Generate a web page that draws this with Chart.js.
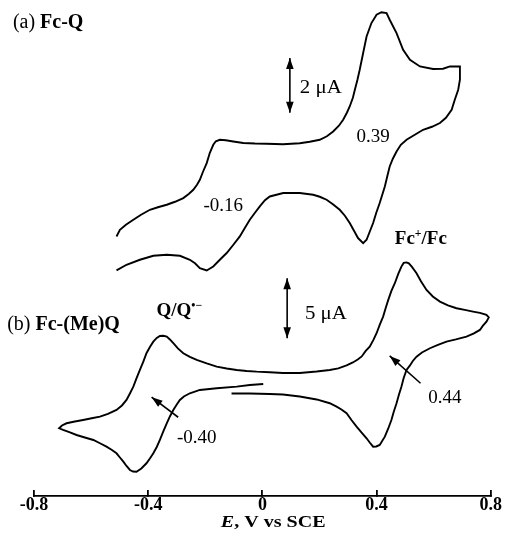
<!DOCTYPE html>
<html>
<head>
<meta charset="utf-8">
<script src="https://cdn.jsdelivr.net/npm/chart.js@4/dist/chart.umd.min.js"></script>
<style>
  html, body { margin: 0; padding: 0; background: #fff; }
  canvas { display: block; }
</style>
</head>
<body>
<canvas id="cv" width="507" height="552"></canvas>
<script>
// Cyclic voltammograms: potential E (V vs SCE) and current (µA)
// (a) Fc-Q : forward scan to +0.69 V, then back
const fcQ_E = [-0.511,-0.499,-0.478,-0.452,-0.425,-0.394,-0.366,-0.335,-0.306,-0.277,-0.257,-0.242,-0.229,-0.219,-0.208,-0.195,-0.184,-0.172,-0.163,-0.149,-0.128,-0.102,-0.067,-0.026,0.015,0.072,0.131,0.166,0.201,0.226,0.248,0.268,0.283,0.296,0.306,0.317,0.324,0.333,0.341,0.353,0.365,0.382,0.400,0.417,0.435,0.446,0.470,0.493,0.517,0.552,0.598,0.633,0.657,0.692,
  0.692,0.686,0.674,0.663,0.643,0.622,0.594,0.563,0.534,0.505,0.485,0.470,0.457,0.446,0.438,0.429,0.420,0.411,0.399,0.388,0.376,0.365,0.353,0.335,0.320,0.306,0.289,0.271,0.247,0.225,0.201,0.178,0.131,0.073,0.026,0.009,-0.009,-0.026,-0.044,-0.061,-0.079,-0.103,-0.125,-0.149,-0.172,-0.195,-0.219,-0.236,-0.254,-0.289,-0.335,-0.382,-0.429,-0.476,-0.511];
const fcQ_I = [-1.338,-1.094,-0.911,-0.729,-0.547,-0.365,-0.273,-0.182,-0.073,0.062,0.219,0.365,0.547,0.729,1.021,1.338,1.713,2.005,2.133,2.187,2.169,2.125,2.067,2.049,2.042,2.023,2.060,2.114,2.187,2.315,2.490,2.698,2.917,3.172,3.401,3.719,4.010,4.375,4.739,5.348,5.953,6.442,6.744,6.836,6.806,6.562,6.077,5.468,5.104,4.860,4.765,4.776,4.860,4.860,
  4.375,4.010,3.646,3.281,2.989,2.796,2.661,2.552,2.370,2.187,2.005,1.761,1.495,1.214,0.875,0.485,0.182,-0.120,-0.474,-0.849,-1.167,-1.458,-1.579,-1.396,-1.112,-0.849,-0.583,-0.365,-0.164,0.000,0.109,0.182,0.244,0.244,0.120,-0.018,-0.244,-0.474,-0.729,-1.021,-1.338,-1.659,-1.943,-2.187,-2.432,-2.577,-2.490,-2.315,-2.187,-2.042,-2.005,-2.042,-2.187,-2.370,-2.577];

// (b) Fc-(Me)Q : start at 0 V, scan negative to -0.71 V, positive to +0.79 V, back
const fcMeQ_E = [0.003,-0.044,-0.090,-0.160,-0.219,-0.254,-0.275,-0.289,-0.301,-0.312,-0.324,-0.335,-0.347,-0.359,-0.370,-0.382,-0.394,-0.406,-0.424,-0.441,-0.453,-0.464,-0.476,-0.487,-0.499,-0.511,-0.527,-0.546,-0.569,-0.592,-0.622,-0.651,-0.674,-0.698,-0.712,
  -0.702,-0.686,-0.657,-0.628,-0.598,-0.569,-0.541,-0.511,-0.492,-0.476,-0.464,-0.452,-0.441,-0.429,-0.417,-0.406,-0.394,-0.382,-0.370,-0.359,-0.347,-0.335,-0.324,-0.312,-0.296,-0.277,-0.254,-0.230,-0.195,-0.160,-0.125,-0.090,-0.055,-0.020,0.026,0.072,0.131,0.190,0.236,0.266,0.295,0.317,0.334,0.348,0.362,0.376,0.389,0.400,0.411,0.423,0.432,0.441,0.452,0.464,0.476,0.487,0.495,0.505,0.513,0.524,0.540,0.555,0.575,0.597,0.622,0.650,0.680,0.709,0.738,0.762,0.785,0.793,
  0.785,0.772,0.762,0.741,0.715,0.678,0.645,0.615,0.587,0.559,0.540,0.527,0.517,0.505,0.495,0.487,0.478,0.470,0.460,0.452,0.441,0.429,0.411,0.399,0.388,0.376,0.365,0.347,0.330,0.312,0.295,0.277,0.260,0.236,0.190,0.131,0.072,0.026,-0.044,-0.108];
const fcMeQ_I = [-1.167,-1.250,-1.392,-1.525,-1.667,-1.942,-2.208,-2.500,-2.917,-3.333,-3.875,-4.442,-5.125,-5.833,-6.417,-6.942,-7.375,-7.775,-8.208,-8.475,-8.458,-8.333,-8.000,-7.642,-7.292,-6.942,-6.667,-6.392,-6.108,-5.833,-5.625,-5.417,-5.208,-5.000,-4.858,
  -4.625,-4.442,-4.292,-4.167,-4.025,-3.892,-3.667,-3.333,-2.958,-2.500,-1.958,-1.392,-0.708,0.000,0.692,1.392,1.917,2.358,2.667,2.833,2.850,2.775,2.542,2.225,1.792,1.392,1.083,0.833,0.542,0.275,0.125,0.000,-0.083,-0.142,-0.192,-0.250,-0.250,-0.125,0.000,0.125,0.375,0.625,0.875,1.125,1.583,1.942,2.500,3.058,3.750,4.442,5.167,5.833,6.583,7.225,8.000,8.608,8.917,8.958,8.875,8.583,8.058,7.417,6.667,6.125,5.692,5.375,5.142,5.000,4.858,4.750,4.583,4.375,
  4.025,3.667,3.333,3.042,2.775,2.542,2.358,2.083,1.808,1.458,1.108,0.750,0.375,0.000,-0.667,-1.392,-2.083,-2.775,-3.500,-4.167,-4.875,-5.558,-6.250,-6.375,-6.392,-6.042,-5.692,-5.208,-4.725,-4.167,-3.608,-3.292,-3.058,-2.775,-2.458,-2.208,-2.042,-2.000,-1.958,-1.958];

// Potential axis ticks
const tickValues = [-0.8, -0.4, 0, 0.4, 0.8];
const tickLabels = ['-0.8', '-0.4', '0', '0.4', '0.8'];

const SERIF = "'Liberation Serif', 'Times New Roman', serif";

const toPoints = (xs, ys) => xs.map((x, i) => ({ x, y: ys[i] }));

// Text notes, placed in (E, current) units of the given current axis
const notes = [
  { axis: 'ya', x: -0.874, y: 6.50, align: 'left', size: 20, parts: [{ t: '(a) ' }, { t: 'Fc-Q', bold: true }] },
  { axis: 'ya', x: 0.131, y: 4.11, align: 'left', size: 19, sx: 1.1, parts: [{ t: '2 \u03bcA' }] },
  { axis: 'ya', x: 0.388, y: 2.33, align: 'center', size: 19, parts: [{ t: '0.39' }] },
  { axis: 'ya', x: -0.137, y: -0.18, align: 'center', size: 19, parts: [{ t: '-0.16' }] },
  { axis: 'ya', x: 0.555, y: -1.39, align: 'center', size: 19, parts: [{ t: 'Fc', bold: true }, { t: '+', bold: true, sup: true }, { t: '/Fc', bold: true }] },
  { axis: 'yb', x: -0.371, y: 5.00, align: 'left', size: 19, parts: [{ t: 'Q/Q', bold: true }, { t: '\u2022\u2212', bold: true, sup: true }] },
  { axis: 'yb', x: -0.894, y: 3.89, align: 'left', size: 20, parts: [{ t: '(b) ' }, { t: 'Fc-(Me)Q', bold: true }] },
  { axis: 'yb', x: 0.149, y: 4.77, align: 'left', size: 19, sx: 1.1, parts: [{ t: '5 \u03bcA' }] },
  { axis: 'yb', x: 0.639, y: -2.22, align: 'center', size: 19, parts: [{ t: '0.44' }] },
  { axis: 'yb', x: -0.230, y: -5.56, align: 'center', size: 19, parts: [{ t: '-0.40' }] }
];

// Scale bars (double arrows) and peak pointers
const arrows = [
  { axis: 'ya', x1: 0.0963, y1: 3.17, x2: 0.0963, y2: 5.17, both: true },
  { axis: 'yb', x1: 0.0868, y1: 2.64, x2: 0.0868, y2: 7.64, both: true },
  { axis: 'yb', x1: 0.554, y1: -1.11, x2: 0.446, y2: 1.17, both: false },
  { axis: 'yb', x1: -0.295, y1: -3.94, x2: -0.388, y2: -2.27, both: false }
];

function drawRich(ctx, parts, px, py, align, size, sx) {
  const pieces = parts.map(p => {
    const fs = p.sup ? size * 0.62 : size;
    const font = (p.italic ? 'italic ' : '') + (p.bold ? 'bold ' : '') + fs + 'px ' + SERIF;
    ctx.font = font;
    return { t: p.t, font, w: ctx.measureText(p.t).width, dy: p.sup ? -size * 0.40 : 0 };
  });
  const total = pieces.reduce((s, p) => s + p.w, 0) * sx;
  const x0 = align === 'left' ? px : align === 'center' ? px - total / 2 : px - total;
  ctx.save();
  ctx.translate(x0, py + size * 0.33);
  ctx.scale(sx, 1);
  ctx.textAlign = 'left';
  ctx.textBaseline = 'alphabetic';
  ctx.fillStyle = '#000';
  let x = 0;
  for (const p of pieces) { ctx.font = p.font; ctx.fillText(p.t, x, p.dy); x += p.w; }
  ctx.restore();
}

function arrowHead(ctx, fx, fy, tx, ty, len, half) {
  const a = Math.atan2(ty - fy, tx - fx);
  ctx.beginPath();
  ctx.moveTo(tx, ty);
  ctx.lineTo(tx - len * Math.cos(a) + half * Math.sin(a), ty - len * Math.sin(a) - half * Math.cos(a));
  ctx.lineTo(tx - len * Math.cos(a) - half * Math.sin(a), ty - len * Math.sin(a) + half * Math.cos(a));
  ctx.closePath();
  ctx.fill();
}

const annotate = {
  id: 'annotate',
  afterDatasetsDraw(chart) {
    const ctx = chart.ctx;
    const xs = chart.scales.x;
    ctx.save();
    ctx.strokeStyle = '#000';
    ctx.fillStyle = '#000';
    ctx.lineWidth = 1.6;
    for (const a of arrows) {
      const ys = chart.scales[a.axis];
      const x1 = xs.getPixelForValue(a.x1), y1 = ys.getPixelForValue(a.y1);
      const x2 = xs.getPixelForValue(a.x2), y2 = ys.getPixelForValue(a.y2);
      ctx.beginPath(); ctx.moveTo(x1, y1); ctx.lineTo(x2, y2); ctx.stroke();
      arrowHead(ctx, x1, y1, x2, y2, 11, 3.8);
      if (a.both) arrowHead(ctx, x2, y2, x1, y1, 11, 3.8);
    }
    for (const n of notes) {
      const ys = chart.scales[n.axis];
      drawRich(ctx, n.parts, xs.getPixelForValue(n.x), ys.getPixelForValue(n.y), n.align, n.size, n.sx || 1);
    }
    // axis title below the tick labels
    drawRich(ctx, [{ t: 'E', bold: true, italic: true }, { t: ', V vs SCE', bold: true }],
      xs.getPixelForValue(0.038), xs.top + 25, 'center', 17, 1.18);
    ctx.restore();
  }
};

const lineStyle = {
  borderColor: '#000',
  borderWidth: 1.9,
  pointRadius: 0,
  tension: 0,
  fill: false
};

new Chart(document.getElementById('cv'), {
  type: 'line',
  data: {
    datasets: [
      Object.assign({ label: '(a) Fc-Q', data: toPoints(fcQ_E, fcQ_I), yAxisID: 'ya' }, lineStyle),
      Object.assign({ label: '(b) Fc-(Me)Q', data: toPoints(fcMeQ_E, fcMeQ_I), yAxisID: 'yb' }, lineStyle)
    ]
  },
  options: {
    responsive: false,
    animation: false,
    devicePixelRatio: 1,
    events: [],
    layout: { padding: { top: 5, left: 34, right: 16, bottom: 16 } },
    plugins: { legend: { display: false }, tooltip: { enabled: false } },
    scales: {
      x: {
        type: 'linear',
        position: 'bottom',
        min: -0.8,
        max: 0.8,
        afterBuildTicks: s => { s.ticks = tickValues.map(v => ({ value: v })); },
        afterFit: s => { s.height = 40; },
        grid: { display: true, drawOnChartArea: false, drawTicks: true, tickLength: -6, color: '#000', lineWidth: 1.8 },
        border: { display: true, color: '#000', width: 1.8 },
        ticks: {
          color: '#000',
          padding: 5,
          maxRotation: 0,
          autoSkip: false,
          font: { family: SERIF, size: 18, weight: 'bold' },
          callback: (v, i) => tickLabels[i]
        }
      },
      ya: { type: 'linear', display: false, min: -10.8, max: 7.1 },
      yb: { type: 'linear', display: false, min: -10.5, max: 30.4 }
    }
  },
  plugins: [annotate]
});
</script>
</body>
</html>
